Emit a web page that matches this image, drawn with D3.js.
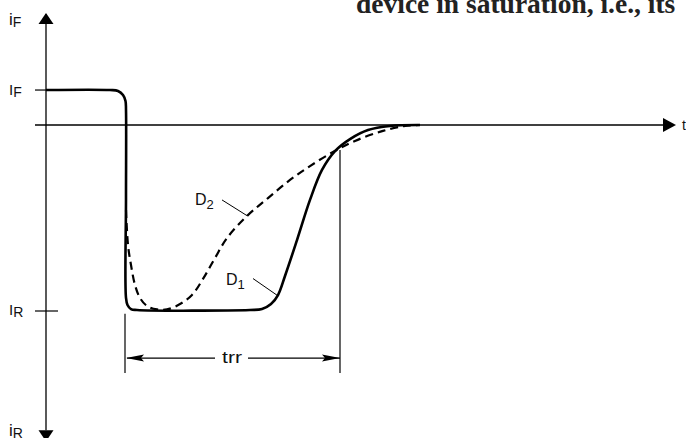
<!DOCTYPE html>
<html>
<head>
<meta charset="utf-8">
<script src="https://cdn.jsdelivr.net/npm/d3@7"></script>
<style>
  body { margin: 0; background: #fff; }
  svg { display: block; }
  .lbl { font-family: "Liberation Sans", Arial, sans-serif; fill: #111; }
</style>
</head>
<body>
<div id="chart"></div>
<script>
var svgWidth = 686;
var svgHeight = 438;

// forward current step, then reverse recovery of two diodes
// t in arbitrary time units, i scaled so that IR = -10
var iF = 1.89;
var iR = -10;

var d1Curve = [
  [0, 1.89], [6.4, 1.89], [7.2, 1.84], [7.7, 1.62], [7.95, 1.30], [8.0, 0.81],
  [8.0, -4.0], [8.0, -9.35], [8.15, -9.73], [8.5, -9.95], [9.1, -10],
  [20.4, -10], [21.6, -9.95], [22.5, -9.68], [23.2, -9.19], [23.9, -8.16],
  [25.1, -6.22], [26.4, -4.05], [27.6, -2.43], [28.9, -1.41], [30.4, -0.76],
  [32.2, -0.27], [34.4, -0.05], [37.4, 0]
];

var d2Curve = [
  [8.0, -4.6], [8.2, -6.49], [8.5, -7.57], [8.9, -8.65], [9.4, -9.35],
  [10.1, -9.78], [11.1, -9.97], [12.1, -9.97], [13.4, -9.68], [14.6, -9.19],
  [15.7, -8.32], [16.9, -7.19], [18.1, -6.11], [20.1, -4.92], [22.2, -3.95],
  [24.4, -2.97], [26.4, -2.22], [28.7, -1.46], [30.9, -0.86], [33.7, -0.32],
  [35.9, -0.05], [37.4, 0]
];

// reverse recovery time span
var trrStart = 7.9;
var trrEnd = 29.4;

var svg = d3.select("#chart")
  .append("svg")
  .attr("width", svgWidth)
  .attr("height", svgHeight);

var x = d3.scaleLinear().domain([0, 63]).range([46, 676]);
var y = d3.scaleLinear().domain([0, -10]).range([125, 310]);

// text fragment from the surrounding page
svg.append("text")
  .attr("x", 356)
  .attr("y", 13)
  .attr("font-family", "Liberation Serif, Times New Roman, serif")
  .attr("font-weight", "bold")
  .attr("font-size", "27.5px")
  .attr("fill", "#222")
  .text("device in saturation, i.e., its");

// vertical axis (iF up, iR down)
svg.append("line")
  .attr("x1", x(0)).attr("x2", x(0))
  .attr("y1", y(6)).attr("y2", y(-16.5))
  .attr("stroke", "#000").attr("stroke-width", 1.3);

svg.append("path")
  .attr("d", `M${x(0)},${y(6.05)} l-7.5,11 l15,0 Z`)
  .attr("fill", "#000");
svg.append("path")
  .attr("d", `M${x(0)},${y(-17.1)} l-7.5,-11 l15,0 Z`)
  .attr("fill", "#000");

// time axis
svg.append("line")
  .attr("x1", x(-1.1)).attr("x2", x(61.7))
  .attr("y1", y(0)).attr("y2", y(0))
  .attr("stroke", "#000").attr("stroke-width", 1.3);
svg.append("path")
  .attr("d", `M${x(63)},${y(0)} l-13,-7 l0,14 Z`)
  .attr("fill", "#000");

// ticks for IF and IR
svg.append("line")
  .attr("x1", x(-1.1)).attr("x2", x(0))
  .attr("y1", y(iF)).attr("y2", y(iF))
  .attr("stroke", "#000").attr("stroke-width", 1.2);
svg.append("line")
  .attr("x1", x(-1.1)).attr("x2", x(1.2))
  .attr("y1", y(iR) + 1).attr("y2", y(iR) + 1)
  .attr("stroke", "#000").attr("stroke-width", 1.2);

var line = d3.line()
  .x(d => x(d[0]))
  .y(d => y(d[1]))
  .curve(d3.curveCatmullRom.alpha(0.5));

svg.append("path")
  .datum(d1Curve)
  .attr("d", line)
  .attr("fill", "none")
  .attr("stroke", "#000")
  .attr("stroke-width", 2.6)
  .attr("stroke-linejoin", "round");

svg.append("path")
  .datum(d2Curve)
  .attr("d", line)
  .attr("fill", "none")
  .attr("stroke", "#000")
  .attr("stroke-width", 2.2)
  .attr("stroke-dasharray", "8,5");

// trr dimension
var dimY = y(-12.6);
svg.append("line")
  .attr("x1", x(trrStart)).attr("x2", x(trrStart))
  .attr("y1", y(-10.2)).attr("y2", y(-13.4))
  .attr("stroke", "#000").attr("stroke-width", 1.2);
svg.append("line")
  .attr("x1", x(trrEnd)).attr("x2", x(trrEnd))
  .attr("y1", y(-1.35)).attr("y2", y(-13.4))
  .attr("stroke", "#000").attr("stroke-width", 1.2);
svg.append("line")
  .attr("x1", x(trrStart) + 2).attr("x2", x(16.9))
  .attr("y1", dimY).attr("y2", dimY)
  .attr("stroke", "#000").attr("stroke-width", 1.2);
svg.append("line")
  .attr("x1", x(20.2)).attr("x2", x(trrEnd))
  .attr("y1", dimY).attr("y2", dimY)
  .attr("stroke", "#000").attr("stroke-width", 1.2);
svg.append("path")
  .attr("d", `M${x(trrStart) + 1},${dimY} l18,-3.5 l-3,3.5 l3,3.5 Z`)
  .attr("fill", "#000");
svg.append("path")
  .attr("d", `M${x(trrEnd)},${dimY} l-18,-3.5 l3,3.5 l-3,3.5 Z`)
  .attr("fill", "#000");
svg.append("text")
  .attr("class", "lbl")
  .attr("x", x(17.6)).attr("y", dimY + 5)
  .attr("font-size", "16px")
  .attr("textLength", 20)
  .attr("lengthAdjust", "spacingAndGlyphs")
  .text("trr");

// leader lines for D1 / D2
svg.append("line")
  .attr("x1", x(17.6)).attr("y1", y(-4.05))
  .attr("x2", x(20.1)).attr("y2", y(-4.9))
  .attr("stroke", "#000").attr("stroke-width", 1);
svg.append("line")
  .attr("x1", x(20.7)).attr("y1", y(-8.3))
  .attr("x2", x(23.1)).attr("y2", y(-9.2))
  .attr("stroke", "#000").attr("stroke-width", 1);

// labels with subscripts
function subLabel(px, py, main, sub, size, subSize, shift) {
  var t = svg.append("text")
    .attr("class", "lbl")
    .attr("x", px).attr("y", py)
    .attr("font-size", size + "px");
  t.append("tspan").text(main);
  t.append("tspan")
    .attr("font-size", subSize + "px")
    .attr("dy", shift)
    .text(sub);
}

subLabel(9, 25, "i", "F", 17, 14, 2);
subLabel(9, 95, "I", "F", 15, 14, 2);
subLabel(9, 315, "I", "R", 15, 14, 2);
subLabel(9, 436, "i", "R", 17, 14, 2);
subLabel(195, 205, "D", "2", 16, 13, 4);
subLabel(226, 285, "D", "1", 16, 13, 4);

svg.append("text")
  .attr("class", "lbl")
  .attr("x", 682).attr("y", 130)
  .attr("font-size", "14px")
  .text("t");
</script>
</body>
</html>
